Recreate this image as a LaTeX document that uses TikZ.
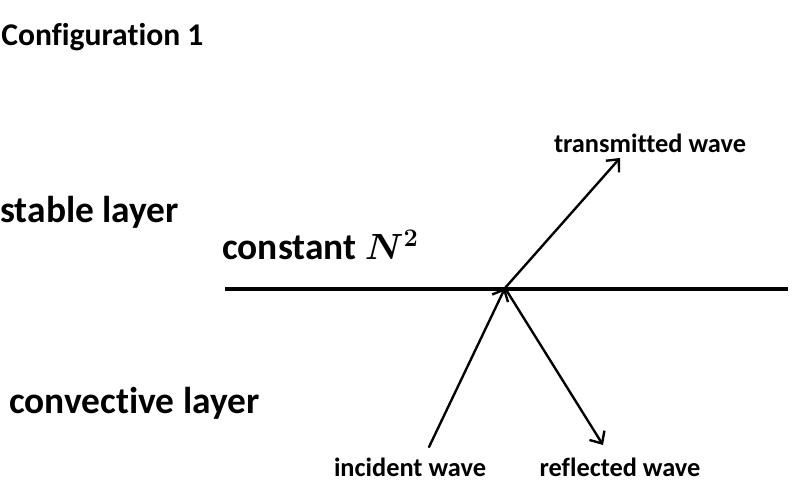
\documentclass[tikz,border=0pt]{standalone}
\usepackage{fontspec}
\setmainfont[RawFeature={-liga;-clig;-calt}]{Carlito}
\usetikzlibrary{arrows.meta}
\tikzset{
  lbl/.style={font=\bfseries\fontsize{15}{17}\selectfont, inner sep=0pt},
  big/.style={font=\bfseries\fontsize{21.3}{24}\selectfont, inner sep=0pt, anchor=west},
  wave/.style={line width=1.35pt, -{Straight Barb[length=5.5pt,width=10pt,line width=1.35pt]}}
}
\begin{document}
\begin{tikzpicture}[x=0.02cm, y=0.02cm, line join=round, line cap=round]
	\useasboundingbox (0,0) rectangle (800,500);
	\node[lbl, anchor=west, font=\bfseries\fontsize{18}{20}\selectfont] (title) at (1,463) {Configuration 1};
	\node[big] (stable) at (0,288) {stable layer};
	\node[big, font=\bfseries\boldmath\fontsize{21.3}{24}\selectfont] (const) at (222,255) {constant $N^2$};
	\node[big] (conv) at (9,97) {convective layer};
	% interface
	\coordinate (left) at (225,211);
	\coordinate (right) at (788,211);
	\coordinate (hit) at (505,212);
	\draw[line width=2.8pt, line cap=butt] (left) -- (right);
	% waves
	\coordinate (inc) at (429,53);
	\coordinate (tra) at (620,342);
	\coordinate (ref) at (603,55);
	\draw[wave] (inc) -- (hit);
	\draw[wave] (hit) -- (tra);
	\draw[wave] (hit) -- (ref);
	\node[lbl] (tralbl) at (650,357) {transmitted wave};
	\node[lbl] (inclbl) at (410,33) {incident wave};
	\node[lbl] (reflbl) at (620,33) {reflected wave};
\end{tikzpicture}
\end{document}
